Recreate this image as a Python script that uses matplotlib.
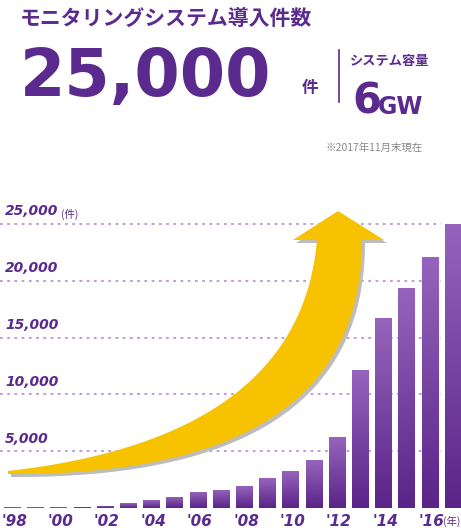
import numpy as np
import matplotlib
matplotlib.use("Agg")
import matplotlib.pyplot as plt
from matplotlib.patches import Polygon
from matplotlib.colors import LinearSegmentedColormap

plt.rcParams['font.family'] = ['Noto Sans CJK JP', 'DejaVu Sans']

years = list(range(1998, 2018))
values = [50, 60, 70, 100, 200, 400, 700, 1000, 1450, 1600, 1900, 2600, 3250, 4200,
          6250, 12150, 16700, 19400, 22100, 25000]
ytick_vals = [5000, 10000, 15000, 20000, 25000]
ytick_labels = ["5,000", "10,000", "15,000", "20,000", "25,000"]
xtick_labels = ["'98", "'00", "'02", "'04", "'06", "'08", "'10", "'12", "'14", "'16"]

PURPLE = "#5b2a8e"
W, H = 461, 528
fig = plt.figure(figsize=(W/100, H/100), dpi=100)

ax = fig.add_axes([0, (H-508)/H, 1, 308/H])
ax.axis('off')

x = np.arange(len(years))
for v in ytick_vals:
    ax.plot([-0.52, 18.5], [v, v], ls=(0, (1.5, 2.5)), lw=1.3, color="#b894dc", zorder=1)
bars = ax.bar(x, values, width=0.69, color=PURPLE, zorder=2)
grad = np.linspace(0, 1, 256).reshape(-1, 1)
cmap = LinearSegmentedColormap.from_list("p", ["#5a2488", "#9664bc"])
for b in bars:
    bx, bw, bh = b.get_x(), b.get_width(), b.get_height()
    im = ax.imshow(grad, cmap=cmap, aspect='auto', origin='lower',
                   extent=[bx, bx+bw, 0, bh], zorder=3)
    im.set_clip_path(b)
ax.set_xlim(-12/23.2, (W-12)/23.2)
ax.set_ylim(0, 25000*308/284)

for v, lab in zip(ytick_vals, ytick_labels):
    ax.text(-0.3, v + 500, lab, color=PURPLE, fontsize=10, fontweight='bold',
            fontstyle='italic', family='DejaVu Sans', va='bottom', ha='left', zorder=5)

ov = fig.add_axes([0, 0, 1, 1], zorder=4)
ov.set_xlim(0, W); ov.set_ylim(H, 0); ov.axis('off')
ov.text(61, 214, "(件)", color=PURPLE, fontsize=7.5, ha='left', va='center')

for i, lab in enumerate(xtick_labels):
    ov.text(14 + 2*i*23.2, 521, lab, color=PURPLE, fontsize=11, fontweight='bold',
            fontstyle='italic', family='DejaVu Sans', ha='center', va='center')
ov.text(452, 521, "(年)", color=PURPLE, fontsize=7.5, ha='center', va='center')

def arrow_poly(dx, dy):
    t = np.linspace(0, 1, 80)
    def bez(p0, p1, p2):
        return ((1-t)**2)[:, None]*np.array(p0) + (2*(1-t)*t)[:, None]*np.array(p1) + (t**2)[:, None]*np.array(p2)
    top = bez((8, 471), (300, 438), (317, 240))
    bot = bez((8, 474), (362, 476), (362, 240))
    pts = np.vstack([top, [(293, 240), (338, 211), (384, 240)], bot[::-1]])
    return pts + np.array([dx, dy])

ov.add_patch(Polygon(arrow_poly(3, 3), closed=True, fc="#bdbdbd", ec='none', zorder=1))
ov.add_patch(Polygon(arrow_poly(0, 0), closed=True, fc="#f7c200", ec='none', zorder=2))

fig.text(20/W, 1-18/H, "モニタリングシステム導入件数", color=PURPLE, fontsize=15,
         fontweight='bold', va='center', ha='left')
fig.text(20/W, 1-78/H, "25,000", color=PURPLE, fontsize=47, fontweight='bold',
         family='DejaVu Sans', va='center', ha='left')
fig.text(302/W, 1-88/H, "件", color=PURPLE, fontsize=12, fontweight='bold', va='center', ha='left')
ov.plot([339, 339], [50, 102], color=PURPLE, lw=1.2)
fig.text(350/W, 1-61/H, "システム容量", color=PURPLE, fontsize=9.5, fontweight='bold', va='center', ha='left')
fig.text(352/W, 1-114/H, "6", color=PURPLE, fontsize=30, fontweight='bold',
         family='DejaVu Sans', va='baseline', ha='left')
fig.text(378/W, 1-114/H, "GW", color=PURPLE, fontsize=17, fontweight='bold',
         family='DejaVu Sans', va='baseline', ha='left')
fig.text(325/W, 1-148/H, "※2017年11月末現在", color="#888888", fontsize=7.5, va='center', ha='left')

fig.savefig("out.png", dpi=100)
